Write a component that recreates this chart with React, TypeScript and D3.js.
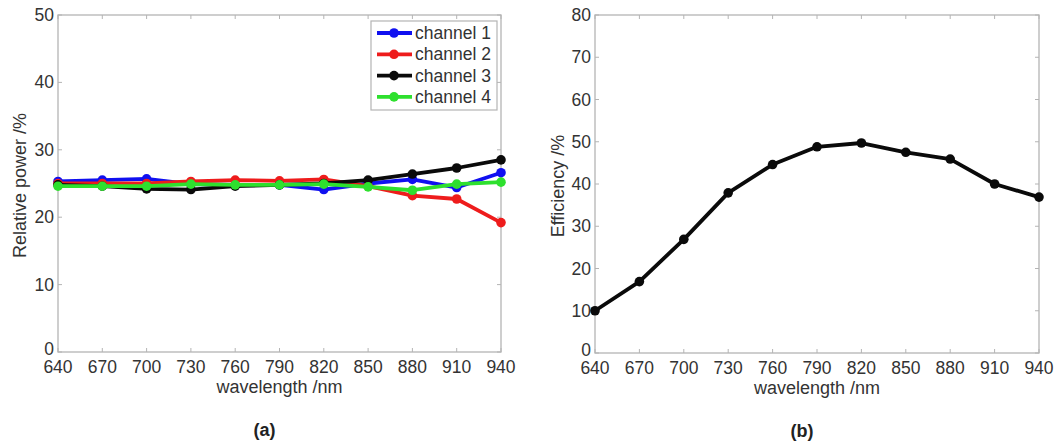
import React from 'react'
import * as d3 from 'd3'

// wavelength steps shared by both panels
const wavelengths = [640, 670, 700, 730, 760, 790, 820, 850, 880, 910, 940]

// panel (a): relative power per channel, %
const channel1 = [25.3, 25.5, 25.7, 24.9, 24.8, 24.8, 24.1, 25.0, 25.6, 24.4, 26.6]
const channel2 = [25.0, 25.0, 25.0, 25.3, 25.5, 25.4, 25.6, 24.6, 23.2, 22.7, 19.2]
const channel3 = [24.8, 24.6, 24.2, 24.1, 24.6, 24.8, 25.0, 25.5, 26.4, 27.3, 28.5]
const channel4 = [24.6, 24.6, 24.6, 24.9, 24.8, 24.8, 24.9, 24.5, 24.0, 24.9, 25.2]

// panel (b): efficiency, %
const efficiency = [10.0, 16.9, 26.9, 37.9, 44.6, 48.8, 49.7, 47.5, 45.9, 40.0, 36.9]

const powerTicks = [0, 10, 20, 30, 40, 50]
const effTicks = [0, 10, 20, 30, 40, 50, 60, 70, 80]

const channels = [
  { name: 'channel 1', values: channel1, color: '#1010f0' },
  { name: 'channel 2', values: channel2, color: '#ee1c1c' },
  { name: 'channel 3', values: channel3, color: '#0a0a0a' },
  { name: 'channel 4', values: channel4, color: '#2ee02e' },
]

const FONT = '"Liberation Sans", Arial, sans-serif'
const AXIS = '#b4b4b4'
const TEXT = '#333'
const FS = 17.5

type Series = { name: string; values: number[]; color: string }

const Panel = ({ left, right, top, bottom, yMax, yTicks, yLabel, yLabelX, series, caption, legend }: {
  left: number; right: number; top: number; bottom: number; yMax: number; yTicks: number[];
  yLabel: string; yLabelX: number; series: Series[]; caption: string; legend?: boolean
}) => {
  const x = d3.scaleLinear().domain([640, 940]).range([left, right])
  const y = d3.scaleLinear().domain([0, yMax]).range([bottom, top])
  const line = d3.line<number>().x((_, i) => x(wavelengths[i])).y(d => y(d))
  const tick = 4
  const cx = (left + right) / 2

  return (
    <g fontFamily={FONT}>
      <rect x={left} y={top} width={right - left} height={bottom - top} fill="none" stroke={AXIS} strokeWidth={1.3} />
      {wavelengths.map(w => (
        <g key={w}>
          <line x1={x(w)} x2={x(w)} y1={bottom} y2={bottom - tick} stroke={AXIS} />
          <line x1={x(w)} x2={x(w)} y1={top} y2={top + tick} stroke={AXIS} />
          <text x={x(w)} y={bottom + 21} textAnchor="middle" fontSize={FS} fill={TEXT}>{w}</text>
        </g>
      ))}
      {yTicks.map(v => (
        <g key={v}>
          <line x1={left} x2={left + tick} y1={y(v)} y2={y(v)} stroke={AXIS} />
          <line x1={right} x2={right - tick} y1={y(v)} y2={y(v)} stroke={AXIS} />
          <text x={left - 4} y={y(v) + (v === 0 ? 3 : 6)} textAnchor="end" fontSize={FS} fill={TEXT}>{v}</text>
        </g>
      ))}
      <text x={cx} y={bottom + 41} textAnchor="middle" fontSize={FS + 0.5} fill={TEXT}>wavelength /nm</text>
      <text transform={`translate(${yLabelX},${(top + bottom) / 2 + 2}) rotate(-90)`} textAnchor="middle" fontSize={FS + 0.5} fill={TEXT}>{yLabel}</text>
      <text x={cx - 15} y={bottom + 84} textAnchor="middle" fontSize={18} fontWeight="bold" fill="#222">{caption}</text>

      {series.map(s => (
        <g key={s.name}>
          <path d={line(s.values) ?? ''} fill="none" stroke={s.color} strokeWidth={3.8} strokeLinejoin="round" />
          {s.values.map((v, i) => (
            <circle key={i} cx={x(wavelengths[i])} cy={y(v)} r={4.8} fill={s.color} />
          ))}
        </g>
      ))}

      {legend && (
        <g>
          <rect x={371} y={21} width={126} height={89} fill="#fff" stroke={AXIS} strokeWidth={1.2} />
          {series.map((s, i) => {
            const ly = 33 + i * 21.3
            return (
              <g key={s.name}>
                <line x1={377} x2={412} y1={ly} y2={ly} stroke={s.color} strokeWidth={3.8} />
                <circle cx={394} cy={ly} r={4.8} fill={s.color} />
                <text x={415} y={ly + 6} fontSize={FS} fill={TEXT}>{s.name}</text>
              </g>
            )
          })}
        </g>
      )}
    </g>
  )
}

export default function App() {
  return (
    <svg width={1056} height={443} style={{ position: 'absolute', left: 0, top: 0, background: '#fff' }}>
      <rect width={1056} height={443} fill="#fff" />
      <Panel left={58} right={501} top={15} bottom={352} yMax={50} yTicks={powerTicks}
        yLabel="Relative power /%" yLabelX={26} series={channels} caption="(a)" legend />
      <Panel left={595} right={1039} top={15} bottom={353} yMax={80} yTicks={effTicks}
        yLabel="Efficiency /%" yLabelX={564} series={[{ name: 'efficiency', values: efficiency, color: '#0a0a0a' }]} caption="(b)" />
    </svg>
  )
}
